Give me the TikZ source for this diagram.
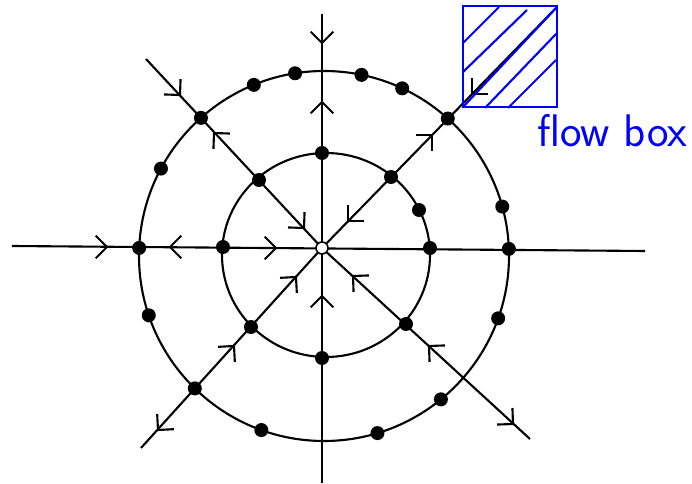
\documentclass[tikz,border=0pt]{standalone}
\begin{document}
\begin{tikzpicture}[x = 0.03cm, y = -0.03cm, line width = 1.8pt,
        flowdot/.style = {fill = black},
        hatch/.style = {draw = blue, line width = 1.8pt}]
        \useasboundingbox (0, 0) rectangle (692, 484);
        \coordinate (O) at (322, 248);
        \coordinate (inner) at (326, 255);
        \coordinate (outer) at (324, 256);
        \foreach \n/\xpos/\ypos in {W/12/246, E/645/251, N/322/14, S/322/483, NW/146/59, SE/530/439, SW/141/448, NE/557/7}{
            \coordinate (\n) at (\xpos, \ypos);
        }
        \draw (W) -- (E);
        \draw (N) -- (S);
        \draw (NW) -- (O) -- (SE);
        \draw (SW) -- (O) -- (NE);
        \draw (inner) ellipse [x radius = 104, y radius = 102];
        \draw (outer) circle [radius = 185];
        \foreach \xpos/\ypos/\a in {107/247/0, 170/247/180, 276/248/0, 322/43/90, 322/102/270, 322/296/270, 180/95/47, 214/133/227, 304/228/47, 353/276/223, 429/346/223, 513/424/43, 296/277/312, 234/346/312, 158/430/132, 348/221/135, 432/135/315, 472/94/135}{
            \draw (\xpos, \ypos) ++(\a + 135:16) -- (\xpos, \ypos) -- ++(\a - 135:16);
        }
        \foreach \xpos/\ypos in {322/153, 391/177, 419/210, 430/248, 406/324, 322/358, 251/327, 223/247, 259/180}{
            \fill[flowdot] (\xpos, \ypos) circle [radius = 7];
        }
        \foreach \a in {182.5, 208.2, 228.3, 247.7, 261, 281.7, 295, 312, 344.5, 357.8, 19.7, 50.8, 73.2, 109.8, 134.3, 161.3}{
            \fill[flowdot] (outer) ++(\a:185) circle [radius = 7];
        }
        \filldraw[fill = white, line width = 1.3pt] (O) circle [radius = 6];
        \draw[hatch] (463, 6) rectangle (557, 107);
        \foreach \xa/\ya/\xb/\yb in {463/43/499/7, 463/72/527/10, 463/107/557/7, 485/108/557/33, 508/108/556/60}{
            \draw[hatch] (\xa, \ya) -- (\xb, \yb);
        }
        \node[blue, anchor = base west, inner sep = 0pt, font = \sffamily\fontsize{39}{46}\selectfont] (boxlabel) at (536, 147) {flow box};
    \end{tikzpicture}
\end{document}
